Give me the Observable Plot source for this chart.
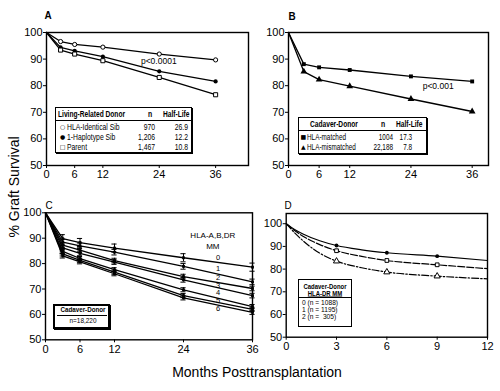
<!DOCTYPE html>
<html>
<head>
<meta charset="utf-8">
<script src="https://cdn.jsdelivr.net/npm/d3@7"></script>
<script src="https://cdn.jsdelivr.net/npm/@observablehq/plot@0.6"></script>
<style>
  html, body { margin: 0; padding: 0; background: white; }
  #wrap { position: relative; width: 500px; height: 391px; background: white; overflow: hidden;
          font-family: 'Liberation Sans Narrow', 'Arial Narrow', 'Liberation Sans', Arial, sans-serif; color: black; }
  .t { position: absolute; white-space: nowrap; line-height: 1; }
  .box { position: absolute; border: 1.3px solid black; box-sizing: border-box; background: white; }
</style>
</head>
<body>
<div id="wrap"></div>
<script>
// ---------------- DATA ----------------
// Panel A: living-related donor
const monthsA = [0, 3, 6, 12, 24, 36];
const aIdentical = [100, 96.6, 95.5, 94.5, 91.9, 89.7];
const aHaplo = [100, 94.4, 93.1, 90.9, 85.4, 81.6];
const aParent = [100, 93.4, 91.9, 89.4, 83.1, 76.6];
const legendANames = ["HLA-Identical Sib", "1-Haplotype Sib", "Parent"];
const legendAN = ["970", "1,206", "1,467"];
const legendAHalf = ["26.9", "12.2", "10.8"];

// Panel B: cadaver donor matched vs mismatched
const monthsB = [0, 3, 6, 12, 24, 36];
const bMatched = [100, 88.1, 86.9, 85.9, 83.5, 81.6];
const bMismatched = [100, 85.3, 82.3, 79.8, 75.0, 70.3];
const legendBNames = ["HLA-matched", "HLA-mismatched"];
const legendBN = ["1004", "22,188"];
const legendBHalf = ["17.3", "7.8"];

// Panel C: HLA-A,B,DR mismatches 0..6
const monthsC = [0, 3, 6, 12, 24, 36];
const cMM0 = [100, 89.8, 88.3, 86.1, 82.3, 78.6];
const cMM1 = [100, 88.5, 87.0, 84.5, 78.9, 72.8];
const cMM2 = [100, 87.3, 85.3, 81.2, 74.9, 70.2];
const cMM3 = [100, 86.2, 84.0, 80.6, 73.6, 67.4];
const cMM4 = [100, 84.8, 82.0, 77.6, 69.7, 63.1];
const cMM5 = [100, 83.8, 81.3, 76.6, 67.4, 62.0];
const cMM6 = [100, 83.0, 80.7, 76.0, 66.5, 60.8];
const cErr = [1.6, 1.1, 0.9, 0.9, 0.8, 0.8, 0.8];
const cLabels = ["0", "1", "2", "3", "4", "5", "6"];
const cLabelY = [82.5, 78.0, 74.6, 71.5, 68.4, 65.3, 62.2];

// Panel D: HLA-DR mismatches, first year
const monthsD = [0, 0.5, 1, 2, 3, 4.5, 6, 9, 12];
const dMM0 = [100, 97.5, 95.5, 92.5, 90.4, 88.5, 87.2, 85.7, 83.8];
const dMM1 = [100, 97.0, 94.5, 90.8, 88.1, 85.6, 83.8, 81.9, 80.2];
const dMM2 = [100, 96.0, 92.5, 87.0, 83.5, 80.6, 78.7, 76.9, 75.7];
const dMarkerMonths = [3, 6, 9];
const legendDRows = ["0 (n = 1088)", "1 (n = 1195)", "2 (n =  305)"];

const yTicks = [50, 60, 70, 80, 90, 100];

// ---------------- HELPERS ----------------
const wrap = document.getElementById("wrap");
const FONT = "'Liberation Sans Narrow','Arial Narrow','Liberation Sans',Arial,sans-serif";
const long = (months, arr, s) => months.map((m, i) => ({m, v: arr[i], s}));

function panel({left, top, width, height, ml, mr, mt, mb, xDomain, xTicks, yDomain, marks}) {
  const svg = Plot.plot({
    width, height, marginLeft: ml, marginRight: mr, marginTop: mt, marginBottom: mb,
    x: {domain: xDomain, ticks: xTicks, tickSize: 3, tickPadding: 2, label: null, tickFormat: d => d},
    y: {domain: yDomain, ticks: yTicks, tickSize: 3, tickPadding: 1, label: null, tickFormat: d => d},
    style: {fontFamily: FONT, fontSize: "11px", background: "transparent", overflow: "visible", color: "black"},
    marks: [Plot.frame({stroke: "black", strokeWidth: 1.4}), ...marks]
  });
  svg.style.position = "absolute";
  svg.style.left = left + "px";
  svg.style.top = top + "px";
  svg.style.maxWidth = "none";
  wrap.appendChild(svg);
}

function txt(parent, s, x, y, anchor = "start", size = 9, extra = {}, sx = 0.8) {
  const d = document.createElement("div");
  d.className = "t";
  d.textContent = s;
  d.style.left = x + "px";
  d.style.top = y + "px";
  d.style.fontSize = size + "px";
  const tx = anchor === "start" ? "0" : anchor === "middle" ? "-50%" : "-100%";
  const ox = anchor === "start" ? "0%" : anchor === "middle" ? "50%" : "100%";
  d.style.transformOrigin = `${ox} 50%`;
  d.style.transform = `translate(${tx},-50%) scaleX(${sx})`;
  Object.assign(d.style, extra);
  parent.appendChild(d);
  return d;
}
function box(x, y, w, h, extra = {}) {
  const d = document.createElement("div");
  d.className = "box";
  d.style.left = x + "px"; d.style.top = y + "px";
  d.style.width = w + "px"; d.style.height = h + "px";
  Object.assign(d.style, extra);
  wrap.appendChild(d);
  return d;
}
function hline(x1, x2, y, w = 1) {
  const d = document.createElement("div");
  d.style.position = "absolute";
  d.style.left = x1 + "px"; d.style.top = y + "px";
  d.style.width = (x2 - x1) + "px"; d.style.height = "0";
  d.style.borderTop = w + "px solid black";
  wrap.appendChild(d);
}

// ---------------- PANEL A ----------------
{
  const id = long(monthsA, aIdentical, "id");
  const hp = long(monthsA, aHaplo, "hp");
  const pa = long(monthsA, aParent, "pa");
  const all = [...id, ...hp, ...pa];
  panel({
    left: 0, top: 0, width: 250, height: 190, ml: 46, mr: 2, mt: 32, mb: 25,
    xDomain: [0, 43], xTicks: [0, 6, 12, 24, 36], yDomain: [50, 100],
    marks: [
      Plot.line(all, {x: "m", y: "v", z: "s", stroke: "black", strokeWidth: 1.3}),
      Plot.dot(id.filter(d => d.m > 0), {x: "m", y: "v", r: 2.1, fill: "white", stroke: "black", strokeWidth: 1}),
      Plot.dot(hp.filter(d => d.m > 0), {x: "m", y: "v", r: 2.1, fill: "black"}),
      Plot.dot(pa.filter(d => d.m > 0), {x: "m", y: "v", r: 2.3, symbol: "square", fill: "white", stroke: "black", strokeWidth: 1}),
      Plot.text([{x: 20.1, y: 89.2}], {x: "x", y: "y", text: () => "p<0.0001", textAnchor: "start", fontSize: 8.5})
    ]
  });
}

// ---------------- PANEL B ----------------
{
  const ma = long(monthsB, bMatched, "ma");
  const mm = long(monthsB, bMismatched, "mm");
  panel({
    left: 250, top: 0, width: 250, height: 190, ml: 38, mr: 12, mt: 32, mb: 25,
    xDomain: [0, 39.2], xTicks: [0, 6, 12, 24, 36], yDomain: [50, 100],
    marks: [
      Plot.line([...ma, ...mm], {x: "m", y: "v", z: "s", stroke: "black", strokeWidth: 1.3}),
      Plot.dot(ma.filter(d => d.m > 0), {x: "m", y: "v", r: 2.2, symbol: "square", fill: "black"}),
      Plot.dot(mm.filter(d => d.m > 0), {x: "m", y: "v", r: 2.5, symbol: "triangle", fill: "black"}),
      Plot.text([{x: 26.3, y: 79.6}], {x: "x", y: "y", text: () => "p<0.001", textAnchor: "start", fontSize: 8.5})
    ]
  });
}

// ---------------- PANEL C ----------------
{
  const series = [cMM0, cMM1, cMM2, cMM3, cMM4, cMM5, cMM6];
  const all = series.flatMap((arr, k) => monthsC.map((m, i) => ({m, v: arr[i], s: k, e: cErr[k]})));
  const pts = all.filter(d => d.m > 0);
  const labs = cLabels.map((t, k) => ({t, y: cLabelY[k]}));
  panel({
    left: 0, top: 190, width: 255, height: 170, ml: 45, mr: 3, mt: 22.3, mb: 20.7,
    xDomain: [0, 36], xTicks: [0, 6, 12, 24, 36], yDomain: [50, 100],
    marks: [
      Plot.line(all, {x: "m", y: "v", z: "s", stroke: "black", strokeWidth: 1.3}),
      Plot.ruleX(pts, {x: "m", y1: d => d.v - d.e, y2: d => d.v + d.e, stroke: "black", strokeWidth: 1}),
      Plot.ruleY(pts, {y: d => d.v - d.e, x1: d => d.m - 0.45, x2: d => d.m + 0.45, stroke: "black", strokeWidth: 1}),
      Plot.ruleY(pts, {y: d => d.v + d.e, x1: d => d.m - 0.45, x2: d => d.m + 0.45, stroke: "black", strokeWidth: 1}),
      Plot.dot(pts, {x: "m", y: "v", r: 1.6, symbol: "square", fill: "black"}),
      Plot.text(labs, {x: () => 30, y: "y", text: "t", fontSize: 7.5}),
      Plot.text([{x: 29.1, y: 91.1, t: "HLA-A,B,DR"}, {x: 29.1, y: 86.6, t: "MM"}], {x: "x", y: "y", text: "t", fontSize: 8})
    ]
  });
}

// ---------------- PANEL D ----------------
{
  const d0 = long(monthsD, dMM0, "0");
  const d1 = long(monthsD, dMM1, "1");
  const d2 = long(monthsD, dMM2, "2");
  const mk = arr => arr.filter(d => dMarkerMonths.includes(d.m));
  panel({
    left: 255, top: 190, width: 245, height: 170, ml: 30.7, mr: 13, mt: 23, mb: 23.3,
    xDomain: [0, 12], xTicks: [0, 3, 6, 9, 12], yDomain: [50, 104.5],
    marks: [
      Plot.line(d0, {x: "m", y: "v", curve: "monotone-x", stroke: "black", strokeWidth: 1.2}),
      Plot.line(d1, {x: "m", y: "v", curve: "monotone-x", stroke: "black", strokeWidth: 1.2, strokeDasharray: "7,2"}),
      Plot.line(d2, {x: "m", y: "v", curve: "monotone-x", stroke: "black", strokeWidth: 1.2, strokeDasharray: "7,2,1.5,2"}),
      Plot.dot(mk(d0), {x: "m", y: "v", r: 1.9, fill: "black"}),
      Plot.dot(mk(d1), {x: "m", y: "v", r: 2.1, symbol: "square", fill: "white", stroke: "black", strokeWidth: 1}),
      Plot.dot(mk(d2), {x: "m", y: "v", r: 2.3, symbol: "triangle", fill: "white", stroke: "black", strokeWidth: 1})
    ]
  });
}

// ---------------- LEGENDS & LABELS ----------------
// Panel letters
txt(wrap, "A", 48, 15, "middle", 11, {fontWeight: "bold"}, 0.9);
txt(wrap, "B", 291.5, 16, "middle", 11, {fontWeight: "bold"}, 0.9);
txt(wrap, "C", 48.7, 205, "middle", 11, {}, 0.9);
txt(wrap, "D", 288, 205, "middle", 11, {}, 0.9);

// Legend A
box(55, 107, 137, 46, {boxShadow: "1px 1px 0 black"});
txt(wrap, "Living-Related Donor", 58, 114, "start", 8.5, {fontWeight: "bold"}, 0.78);
txt(wrap, "n", 150, 114, "middle", 8.5, {fontWeight: "bold"});
txt(wrap, "Half-Life", 163, 114, "start", 8.5, {fontWeight: "bold"}, 0.78);
hline(55, 192, 120, 1);
const symA = ["○", "●", "□"];
const rowYA = [127, 136.7, 146.5];
legendANames.forEach((n, i) => {
  txt(wrap, symA[i], 62.5, rowYA[i], "middle", 6, {fontFamily: "'DejaVu Sans'"}, 1);
  txt(wrap, n, 67, rowYA[i], "start", 8.5);
  txt(wrap, legendAN[i], 155, rowYA[i], "end", 8.5);
  txt(wrap, legendAHalf[i], 188, rowYA[i], "end", 8.5);
});

// Legend B
box(298, 117, 129, 37, {boxShadow: "1px 1px 0 black"});
txt(wrap, "Cadaver-Donor", 310, 124, "start", 8.5, {fontWeight: "bold"}, 0.78);
txt(wrap, "n", 383.3, 124, "middle", 8.5, {fontWeight: "bold"});
txt(wrap, "Half-Life", 396, 124, "start", 8.5, {fontWeight: "bold"}, 0.78);
hline(298, 427, 129.5, 1);
const symB = ["■", "▲"];
const rowYB = [136.7, 146.7];
legendBNames.forEach((n, i) => {
  txt(wrap, symB[i], 303.3, rowYB[i], "middle", 6, {fontFamily: "'DejaVu Sans'"}, 1);
  txt(wrap, n, 307, rowYB[i], "start", 8.5, {}, 0.75);
  txt(wrap, legendBN[i], 393.3, rowYB[i], "end", 8.5, {}, 0.75);
  txt(wrap, legendBHalf[i], 412, rowYB[i], "end", 8.5, {}, 0.75);
});

// Legend C
box(53, 303.5, 57, 25, {border: "2px solid black", boxShadow: "1px 1px 0 black"});
txt(wrap, "Cadaver-Donor", 82.5, 309.5, "middle", 8, {fontWeight: "bold"}, 0.78);
hline(57, 107, 315, 1);
txt(wrap, "n=18,220", 82.5, 320.7, "middle", 8, {}, 0.8);

// Legend D
box(298.3, 279, 53.5, 48, {border: "1.6px solid black"});
txt(wrap, "Cadaver-Donor", 325, 285.6, "middle", 7, {fontWeight: "bold"}, 0.85);
txt(wrap, "HLA-DR MM", 325, 292.6, "middle", 7, {fontWeight: "bold", textDecoration: "underline"}, 0.85);
hline(298.3, 351.8, 296.8, 1);
const rowYD = [301.6, 308.6, 315.6];
legendDRows.forEach((r, i) => txt(wrap, r, 301.7, rowYD[i], "start", 7, {whiteSpace: "pre"}, 0.95));

// Axis titles
txt(wrap, "Months Posttransplantation", 257, 372, "middle", 14, {fontFamily: "'Liberation Sans', Arial, sans-serif"}, 1);
txt(wrap, "% Graft Survival", 14, 187, "middle", 14, {fontFamily: "'Liberation Sans', Arial, sans-serif", transform: "translate(-50%,-50%) rotate(-90deg)", transformOrigin: "50% 50%"}, 1);
</script>
</body>
</html>
